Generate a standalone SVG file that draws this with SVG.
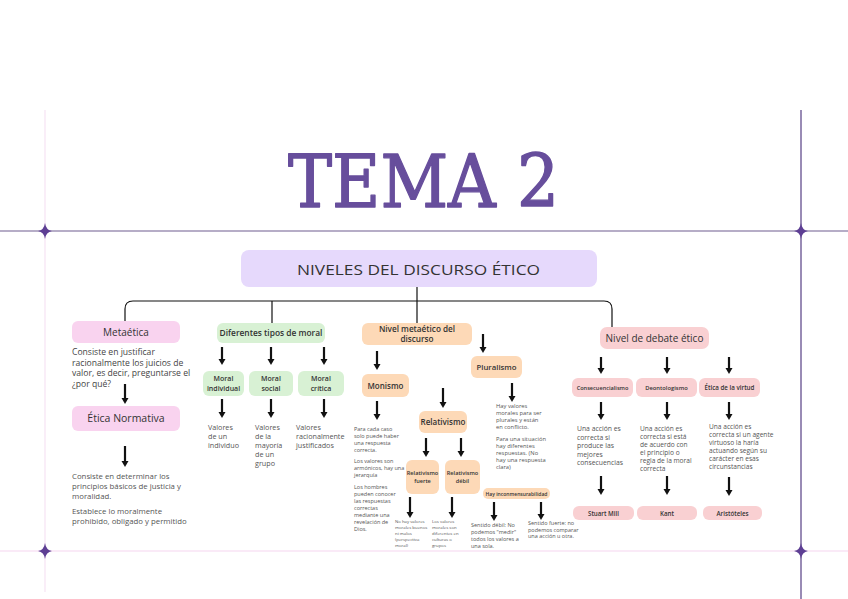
<svg xmlns="http://www.w3.org/2000/svg" width="848" height="599" viewBox="0 0 848 599">
<defs>
<marker id="ah" viewBox="0 -4 6 8" refX="0" refY="0" markerWidth="6" markerHeight="8" markerUnits="userSpaceOnUse" orient="auto">
<path d="M0,-3.5 L6,0 L0,3.5 z" fill="#111"/>
</marker>
<path id="star" d="M0,-8 Q1,-1 7,0 Q1,1 0,8 Q-1,1 -7,0 Q-1,-1 0,-8 z"/>
</defs>
<style>
text{font-family:"Open Sans","Noto Sans",sans-serif;fill:#333}
.lbl{font-weight:600;text-anchor:middle}
.body{fill:#444}
.small{fill:#555}
.arr{stroke:#111;stroke-width:2.2;fill:none;marker-end:url(#ah)}
.con{stroke:#111;stroke-width:1.2;fill:none}
.pink{fill:#f9d3ef}
.green{fill:#d8f1d4}
.peach{fill:#fdd9b7}
.rose{fill:#f9d0d2}
</style>
<rect width="848" height="599" fill="#fff"/>
<g id="frame">
<line x1="45" y1="110" x2="45" y2="592" stroke="#f6e3f4" stroke-width="1.2"/>
<line x1="0" y1="551" x2="848" y2="551" stroke="#f8e3f5" stroke-width="1.5"/>
<line x1="0" y1="231" x2="848" y2="231" stroke="#9e92b4" stroke-width="1.6"/>
<line x1="801" y1="110" x2="801" y2="599" stroke="#6e5a96" stroke-width="1.4"/>
<use href="#star" x="45" y="231" fill="#5e3f94"/>
<use href="#star" x="801" y="231" fill="#5e3f94"/>
<use href="#star" x="45" y="551" fill="#5e3f94"/>
<use href="#star" x="801" y="551" fill="#5e3f94"/>
</g>
<g id="title">
<text x="288" y="207" font-size="72" textLength="271" lengthAdjust="spacingAndGlyphs" style="font-family:'DejaVu Serif','Liberation Serif',serif;fill:#674e9c;stroke:#674e9c;stroke-width:1.4;stroke-linejoin:round">TEMA 2</text>
</g>
<g id="connectors">
<path class="con" d="M417,287 V301"/>
<path class="con" d="M125,321 V309 Q125,301 133,301 H604 Q612,301 612,309 V328"/>
<path class="con" d="M272,301 V323"/>
<path class="con" d="M417,301 V323"/>
<line class="arr" x1="125" y1="384" x2="125" y2="398"/>
<line class="arr" x1="125" y1="446" x2="125" y2="461"/>
<line class="arr" x1="222" y1="347" x2="222" y2="359"/>
<line class="arr" x1="271" y1="347" x2="271" y2="359"/>
<line class="arr" x1="324" y1="347" x2="324" y2="359"/>
<line class="arr" x1="222" y1="399" x2="222" y2="412"/>
<line class="arr" x1="271" y1="399" x2="271" y2="412"/>
<line class="arr" x1="324" y1="399" x2="324" y2="412"/>
<line class="arr" x1="377" y1="351" x2="377" y2="364"/>
<line class="arr" x1="483" y1="334" x2="483" y2="347"/>
<line class="arr" x1="377" y1="401" x2="377" y2="414"/>
<line class="arr" x1="443" y1="388" x2="443" y2="402"/>
<line class="arr" x1="426" y1="438" x2="426" y2="451"/>
<line class="arr" x1="461" y1="438" x2="461" y2="451"/>
<line class="arr" x1="410" y1="497" x2="410" y2="512"/>
<line class="arr" x1="452" y1="497" x2="452" y2="512"/>
<line class="arr" x1="512" y1="383" x2="512" y2="396"/>
<line class="arr" x1="494" y1="502" x2="494" y2="515"/>
<line class="arr" x1="541" y1="502" x2="541" y2="514"/>
<line class="arr" x1="601" y1="357" x2="601" y2="368"/>
<line class="arr" x1="667" y1="357" x2="667" y2="368"/>
<line class="arr" x1="729" y1="357" x2="729" y2="368"/>
<line class="arr" x1="601" y1="402" x2="601" y2="414"/>
<line class="arr" x1="667" y1="402" x2="667" y2="414"/>
<line class="arr" x1="729" y1="402" x2="729" y2="414"/>
<line class="arr" x1="601" y1="476" x2="601" y2="489"/>
<line class="arr" x1="667" y1="476" x2="667" y2="489"/>
<line class="arr" x1="729" y1="477" x2="729" y2="490"/>
</g>
<g id="header">
<rect x="241" y="250" width="356" height="37" rx="8" fill="#e6d9fc"/>
<text x="297" y="274.5" font-size="15" textLength="243" lengthAdjust="spacingAndGlyphs" style="fill:#333;font-weight:500">NIVELES DEL DISCURSO ÉTICO</text>
</g>
<g id="metaetica">
<rect class="pink" x="72" y="321" width="108" height="22" rx="6"/>
<text class="lbl" x="126" y="336" font-size="10" style="font-weight:500">Metaética</text>
<text class="body" font-size="8.6"><tspan x="72" y="355">Consiste en justificar</tspan><tspan x="72" y="365.5">racionalmente los juicios de</tspan><tspan x="72" y="376">valor, es decir, preguntarse el</tspan><tspan x="72" y="386.5">¿por qué?</tspan></text>
</g>
<g id="etica-normativa">
<rect class="pink" x="72" y="406" width="108" height="25" rx="6"/>
<text class="lbl" x="126" y="422" font-size="10.5" style="font-weight:500">Ética Normativa</text>
<text class="small" font-size="7.8"><tspan x="72" y="479">Consiste en determinar los</tspan><tspan x="72" y="489">principios básicos de justicia y</tspan><tspan x="72" y="499">moralidad.</tspan><tspan x="72" y="514">Establece lo moralmente</tspan><tspan x="72" y="524">prohibido, obligado y permitido</tspan></text>
</g>
<g id="tipos-moral">
<rect class="green" x="217" y="323" width="108" height="20" rx="6"/>
<text class="lbl" x="271" y="336" font-size="8.4">Diferentes tipos de moral</text>
</g>
<g id="moral-individual">
<rect class="green" x="203" y="371" width="41" height="25" rx="6"/>
<text class="lbl" font-size="7"><tspan x="223.5" y="381">Moral</tspan><tspan x="223.5" y="391">individual</tspan></text>
<text class="small" font-size="7.2"><tspan x="208" y="430">Valores</tspan><tspan x="208" y="439">de un</tspan><tspan x="208" y="448">individuo</tspan></text>
</g>
<g id="moral-social">
<rect class="green" x="249" y="371" width="44" height="25" rx="6"/>
<text class="lbl" font-size="7"><tspan x="271" y="381">Moral</tspan><tspan x="271" y="391">social</tspan></text>
<text class="small" font-size="7.2"><tspan x="255" y="430">Valores</tspan><tspan x="255" y="439">de la</tspan><tspan x="255" y="448">mayoría</tspan><tspan x="255" y="457">de un</tspan><tspan x="255" y="466">grupo</tspan></text>
</g>
<g id="moral-critica">
<rect class="green" x="298" y="371" width="46" height="25" rx="6"/>
<text class="lbl" font-size="7"><tspan x="321" y="381">Moral</tspan><tspan x="321" y="391">crítica</tspan></text>
<text class="small" font-size="7.2"><tspan x="296" y="430">Valores</tspan><tspan x="296" y="439">racionalmente</tspan><tspan x="296" y="448">justificados</tspan></text>
</g>
<g id="nivel-metaetico">
<rect class="peach" x="362" y="323" width="110" height="22" rx="6"/>
<text class="lbl" font-size="8.2"><tspan x="417" y="332">Nivel metaético del</tspan><tspan x="417" y="342">discurso</tspan></text>
</g>
<g id="monismo">
<rect class="peach" x="362" y="374" width="47" height="23" rx="6"/>
<text class="lbl" x="385.5" y="388.5" font-size="8">Monismo</text>
<text class="small" font-size="5.5"><tspan x="354" y="431">Para cada caso</tspan><tspan x="354" y="438">solo puede haber</tspan><tspan x="354" y="445">una respuesta</tspan><tspan x="354" y="452">correcta.</tspan><tspan x="354" y="463">Los valores son</tspan><tspan x="354" y="470">armónicos, hay una</tspan><tspan x="354" y="477">jerarquía</tspan><tspan x="354" y="489">Los hombres</tspan><tspan x="354" y="496">pueden conocer</tspan><tspan x="354" y="503">las respuestas</tspan><tspan x="354" y="510">correctas</tspan><tspan x="354" y="517">mediante una</tspan><tspan x="354" y="524">revelación de</tspan><tspan x="354" y="531">Dios.</tspan></text>
</g>
<g id="relativismo">
<rect class="peach" x="419" y="411" width="48" height="22" rx="6"/>
<text class="lbl" x="443" y="425" font-size="8">Relativismo</text>
</g>
<g id="relativismo-fuerte">
<rect class="peach" x="406" y="460" width="33" height="34" rx="6"/>
<text class="lbl" font-size="5.6"><tspan x="422.5" y="475">Relativismo</tspan><tspan x="422.5" y="483">fuerte</tspan></text>
<text class="small" font-size="4.3"><tspan x="395" y="523">No hay valores</tspan><tspan x="395" y="529">morales buenos</tspan><tspan x="395" y="535">ni malos</tspan><tspan x="395" y="541">(perspectiva</tspan><tspan x="395" y="547">moral)</tspan></text>
</g>
<g id="relativismo-debil">
<rect class="peach" x="445" y="460" width="35" height="34" rx="6"/>
<text class="lbl" font-size="5.6"><tspan x="462.5" y="475">Relativismo</tspan><tspan x="462.5" y="483">débil</tspan></text>
<text class="small" font-size="4.3"><tspan x="432" y="523">Los valores</tspan><tspan x="432" y="529">morales son</tspan><tspan x="432" y="535">diferentes en</tspan><tspan x="432" y="541">culturas o</tspan><tspan x="432" y="547">grupos</tspan></text>
</g>
<g id="pluralismo">
<rect class="peach" x="471" y="356" width="51" height="22" rx="6"/>
<text class="lbl" x="496.5" y="370" font-size="7.8">Pluralismo</text>
<text class="small" font-size="5.8"><tspan x="496" y="408">Hay valores</tspan><tspan x="496" y="415">morales para ser</tspan><tspan x="496" y="422">plurales y están</tspan><tspan x="496" y="429">en conflicto.</tspan><tspan x="496" y="441">Para una situación</tspan><tspan x="496" y="448">hay diferentes</tspan><tspan x="496" y="455">respuestas. (No</tspan><tspan x="496" y="462">hay una respuesta</tspan><tspan x="496" y="469">clara)</tspan></text>
</g>
<g id="inconmensurabilidad">
<rect class="peach" x="483" y="488" width="67" height="11" rx="5"/>
<text class="lbl" x="516.5" y="495.8" font-size="5">Hay inconmensurabilidad</text>
<text class="small" font-size="5.5"><tspan x="471" y="527">Sentido débil: No</tspan><tspan x="471" y="534">podemos "medir"</tspan><tspan x="471" y="541">todos los valores a</tspan><tspan x="471" y="548">una sola.</tspan><tspan x="528" y="525">Sentido fuerte: no</tspan><tspan x="528" y="531.5">podemos comparar</tspan><tspan x="528" y="538">una acción u otra.</tspan></text>
</g>
<g id="nivel-debate">
<rect class="rose" x="600" y="327" width="109" height="22" rx="7"/>
<text x="654.5" y="342" font-size="10" text-anchor="middle">Nivel de debate ético</text>
</g>
<g id="consecuencialismo">
<rect class="rose" x="572" y="378" width="61" height="19" rx="6"/>
<text class="lbl" x="602.5" y="390" font-size="5.6">Consecuencialismo</text>
<text class="small" font-size="6.8"><tspan x="577" y="431">Una acción es</tspan><tspan x="577" y="439.5">correcta si</tspan><tspan x="577" y="448">produce las</tspan><tspan x="577" y="456.5">mejores</tspan><tspan x="577" y="465">consecuencias</tspan></text>
</g>
<g id="deontologismo">
<rect class="rose" x="636" y="378" width="61" height="19" rx="6"/>
<text class="lbl" x="666.5" y="390" font-size="5.8">Deontologismo</text>
<text class="small" font-size="6.6"><tspan x="640" y="431">Una acción es</tspan><tspan x="640" y="439">correcta si está</tspan><tspan x="640" y="447">de acuerdo con</tspan><tspan x="640" y="455">el principio o</tspan><tspan x="640" y="463">regla de la moral</tspan><tspan x="640" y="471">correcta</tspan></text>
</g>
<g id="etica-virtud">
<rect class="rose" x="699" y="378" width="61" height="19" rx="6"/>
<text class="lbl" x="729.5" y="390" font-size="6.2">Ética de la virtud</text>
<text class="small" font-size="6.6"><tspan x="709" y="429">Una acción es</tspan><tspan x="709" y="437">correcta si un agente</tspan><tspan x="709" y="445">virtuoso la haría</tspan><tspan x="709" y="453">actuando según su</tspan><tspan x="709" y="461">carácter en esas</tspan><tspan x="709" y="469">circunstancias</tspan></text>
</g>
<g id="stuart-mill">
<rect class="rose" x="573" y="506" width="61" height="14" rx="6"/>
<text class="lbl" x="603.5" y="515.5" font-size="6.2">Stuart Mill</text>
</g>
<g id="kant">
<rect class="rose" x="637" y="506" width="60" height="14" rx="6"/>
<text class="lbl" x="667" y="515.5" font-size="6.2">Kant</text>
</g>
<g id="aristoteles">
<rect class="rose" x="703" y="506" width="59" height="14" rx="6"/>
<text class="lbl" x="732.5" y="515.5" font-size="6.2">Aristóteles</text>
</g>
</svg>
